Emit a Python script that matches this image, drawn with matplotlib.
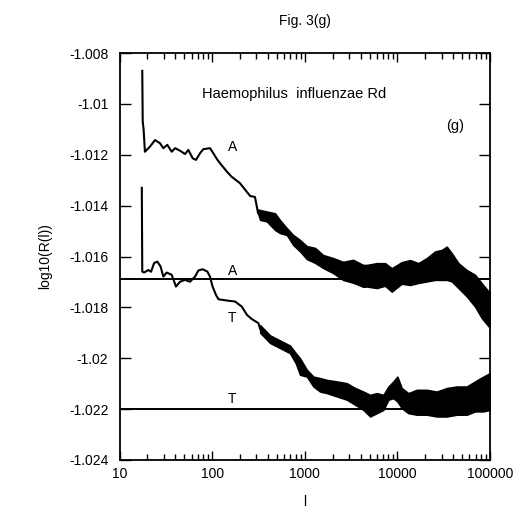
import matplotlib
matplotlib.use("Agg")
import matplotlib.pyplot as plt

plt.rcParams['font.family'] = ['Liberation Sans', 'DejaVu Sans']

# curve A, single trace part (l, log10 R)
a_l = [17.6, 17.8, 18.2, 18.8, 21.3, 24.2, 27.4, 29.7, 32.8, 36.6, 39.8, 45, 51,
       55.3, 61.7, 67, 74, 80.3, 94.8, 103, 114, 126, 144, 162, 200, 257, 290, 313]
a_v = [-1.0087, -1.0107, -1.0110, -1.01188, -1.01168, -1.01142, -1.01155, -1.01174,
       -1.01161, -1.01188, -1.01174, -1.01184, -1.01197, -1.01181, -1.01214, -1.0122,
       -1.01194, -1.01178, -1.01174, -1.01194, -1.0122, -1.0124, -1.01266, -1.01286,
       -1.01312, -1.01362, -1.01366, -1.01429]
# curve A, noisy part: upper and lower envelope
a_band_l = [313, 329, 389, 478, 541, 639, 748, 889, 1052, 1292, 1577, 2023, 2594,
            3326, 4266, 4670, 5980, 7360, 8690, 11140, 13700, 16870, 20760, 25530,
            30150, 34130, 38640, 45600, 56100, 69000, 81500, 96200, 100000]
a_hi = [-1.01415, -1.01417, -1.01423, -1.0143, -1.01457, -1.01488, -1.01515,
        -1.01535, -1.01559, -1.01566, -1.01594, -1.01606, -1.01621, -1.01613,
        -1.01633, -1.01633, -1.01626, -1.01626, -1.01646, -1.01622, -1.01614,
        -1.01626, -1.01606, -1.0158, -1.01574, -1.01561, -1.01587, -1.01626,
        -1.01653, -1.01672, -1.01705, -1.01737, -1.0174]
a_lo = [-1.0143, -1.01456, -1.01462, -1.01496, -1.01508, -1.01515, -1.01554,
        -1.0158, -1.0161, -1.01625, -1.01645, -1.01665, -1.01692, -1.01703,
        -1.01719, -1.01718, -1.01724, -1.01715, -1.01738, -1.01707, -1.01712,
        -1.01704, -1.01698, -1.01692, -1.01692, -1.01692, -1.01698, -1.01724,
        -1.01757, -1.01797, -1.01842, -1.01874, -1.0188]

# curve T, single trace part
t_l = [17.4, 17.6, 18.4, 20.5, 21.9, 23.6, 25.6, 27.8, 29.7, 32.3, 36.6, 40.7, 45,
       51, 57.7, 65.3, 71, 79, 88.7, 94.8, 101, 110, 117, 144, 177, 209, 237, 268,
       316, 330]
t_v = [-1.0133, -1.01659, -1.01663, -1.01653, -1.0166, -1.01626, -1.0162, -1.0164,
       -1.01679, -1.01663, -1.01672, -1.01718, -1.01699, -1.01692, -1.01699,
       -1.01679, -1.01655, -1.0165, -1.01659, -1.01679, -1.01718, -1.01751,
       -1.01768, -1.01773, -1.01777, -1.01797, -1.01829, -1.01846, -1.01862,
       -1.01885]
t_band_l = [330, 422, 541, 693, 800, 889, 1052, 1239, 1463, 1729, 2216, 2844, 3499,
            4297, 5072, 5993, 7068, 7994, 9058, 9990, 11140, 13140, 16190, 20760,
            26600, 34130, 43760, 56100, 69000, 84800, 100000]
t_hi = [-1.0187, -1.0191, -1.0193, -1.0195, -1.0198, -1.0200, -1.02045, -1.02072,
        -1.02078, -1.02085, -1.02091, -1.02098, -1.02117, -1.02131, -1.02144,
        -1.02137, -1.02144, -1.02111, -1.02091, -1.02072, -1.02117, -1.02137,
        -1.02124, -1.02124, -1.02131, -1.02117, -1.02111, -1.02111, -1.02091,
        -1.02072, -1.02058]
t_lo = [-1.0190, -1.0194, -1.0196, -1.0198, -1.0202, -1.02065, -1.02072, -1.02111,
        -1.02131, -1.02137, -1.0215, -1.02163, -1.02183, -1.02203, -1.02229,
        -1.02216, -1.02203, -1.02163, -1.02157, -1.0217, -1.02196, -1.02216,
        -1.02222, -1.02222, -1.02229, -1.02229, -1.02222, -1.02222, -1.02209,
        -1.02209, -1.02203]

# reference levels (horizontal lines)
level_a = -1.0169
level_t = -1.0220

yticks = [-1.008, -1.01, -1.012, -1.014, -1.016, -1.018, -1.02, -1.022, -1.024]
ytick_labels = ["-1.008", "-1.01", "-1.012", "-1.014", "-1.016", "-1.018",
                "-1.02", "-1.022", "-1.024"]
xticks = [10, 100, 1000, 10000, 100000]
xtick_labels = ["10", "100", "1000", "10000", "100000"]


def main():
    fig = plt.figure(figsize=(5.27, 5.2), dpi=100)
    ax = fig.add_axes([0.2268, 0.1154, 0.703, 0.7826])

    ax.axhline(level_a, color='black', lw=1.4)
    ax.axhline(level_t, color='black', lw=1.4)

    ax.plot(a_l, a_v, color='black', lw=1.5)
    ax.fill_between(a_band_l, a_lo, a_hi, color='black', lw=1.1, edgecolor='black')
    ax.plot(t_l, t_v, color='black', lw=1.5)
    ax.fill_between(t_band_l, t_lo, t_hi, color='black', lw=1.1, edgecolor='black')

    ax.set_xscale('log')
    ax.set_xlim(10, 100000)
    ax.set_ylim(-1.024, -1.008)
    ax.set_xticks(xticks)
    ax.set_xticklabels(xtick_labels)
    ax.set_yticks(yticks)
    ax.set_yticklabels(ytick_labels)

    ax.tick_params(axis='both', which='both', direction='in', top=True, right=True,
                   labelsize=10, width=1)
    ax.tick_params(axis='y', which='major', length=8, pad=8)
    ax.tick_params(axis='x', which='major', length=6.5, pad=5)
    ax.tick_params(axis='x', which='minor', length=4.5)
    for s in ax.spines.values():
        s.set_linewidth(1.3)

    ax.text(148, -1.0117, "A", fontsize=10, ha='left', va='center')
    ax.text(148, -1.01655, "A", fontsize=10, ha='left', va='center')
    ax.text(148, -1.0184, "T", fontsize=10, ha='left', va='center')
    ax.text(148, -1.0216, "T", fontsize=10, ha='left', va='center')
    ax.text(0.47, 0.9, "Haemophilus  influenzae Rd", transform=ax.transAxes,
            fontsize=10.5, ha='center', va='center')
    ax.text(0.905, 0.82, "(g)", transform=ax.transAxes, fontsize=10.5,
            ha='center', va='center')

    ax.set_title("Fig. 3(g)", fontsize=10, pad=20)
    ax.set_xlabel("l", fontsize=10, labelpad=10)
    ax.set_ylabel("log10(R(l))", fontsize=10, labelpad=12)

    fig.savefig("out.png", dpi=100)


if __name__ == "__main__":
    main()
